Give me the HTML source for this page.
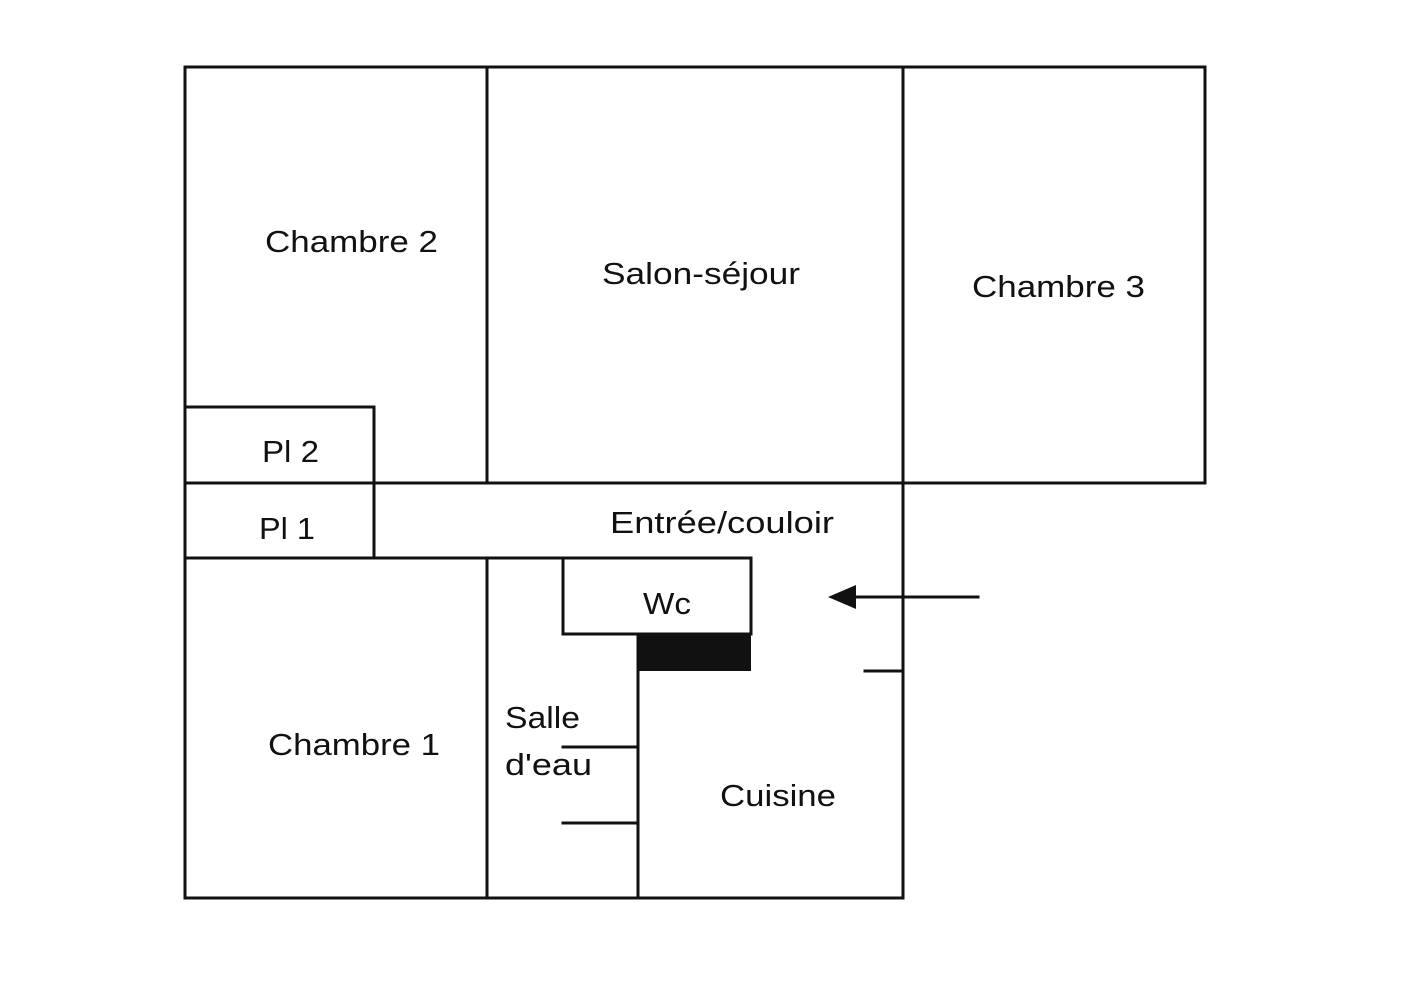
<!DOCTYPE html>
<html><head><meta charset="utf-8"><style>
html,body{margin:0;padding:0;background:#fff;}
svg text{font-family:"Liberation Sans","DejaVu Sans",sans-serif;font-size:31px;fill:#111;}
</style></head><body>
<svg width="1404" height="993" viewBox="0 0 1404 993" xmlns="http://www.w3.org/2000/svg">
<g stroke="#111" stroke-width="3" fill="none" stroke-linecap="square">
<path d="M185 67 H1205 V483 H185 Z"/>
<path d="M487 67 V483"/>
<path d="M903 67 V898"/>
<path d="M185 483 V898 H903"/>
<path d="M185 407 H374 V558"/>
<path d="M185 558 H563"/>
<path d="M563 558 H751 V634 H563 Z"/>
<path d="M487 558 V898"/>
<path d="M638 634 V898"/>
<path d="M563 747 H638"/>
<path d="M563 823 H638"/>
<path d="M865 671 H903"/>
<path d="M978 597 H850"/>
</g>
<rect x="639" y="634" width="112" height="37" fill="#111"/>
<polygon points="828,597 856,585 856,609" fill="#111"/>
<text x="265" y="252" textLength="173" lengthAdjust="spacingAndGlyphs">Chambre 2</text>
<text x="602" y="284" textLength="198" lengthAdjust="spacingAndGlyphs">Salon-séjour</text>
<text x="972" y="297" textLength="173" lengthAdjust="spacingAndGlyphs">Chambre 3</text>
<text x="262" y="462" textLength="57" lengthAdjust="spacingAndGlyphs">Pl 2</text>
<text x="259" y="539" textLength="56" lengthAdjust="spacingAndGlyphs">Pl 1</text>
<text x="610" y="533" textLength="224" lengthAdjust="spacingAndGlyphs">Entrée/couloir</text>
<text x="643" y="614" textLength="48" lengthAdjust="spacingAndGlyphs">Wc</text>
<text x="268" y="755" textLength="172" lengthAdjust="spacingAndGlyphs">Chambre 1</text>
<text x="505" y="728" textLength="75" lengthAdjust="spacingAndGlyphs">Salle</text>
<text x="505" y="775" textLength="87" lengthAdjust="spacingAndGlyphs">d'eau</text>
<text x="720" y="806" textLength="116" lengthAdjust="spacingAndGlyphs">Cuisine</text>
</svg>
</body></html>
